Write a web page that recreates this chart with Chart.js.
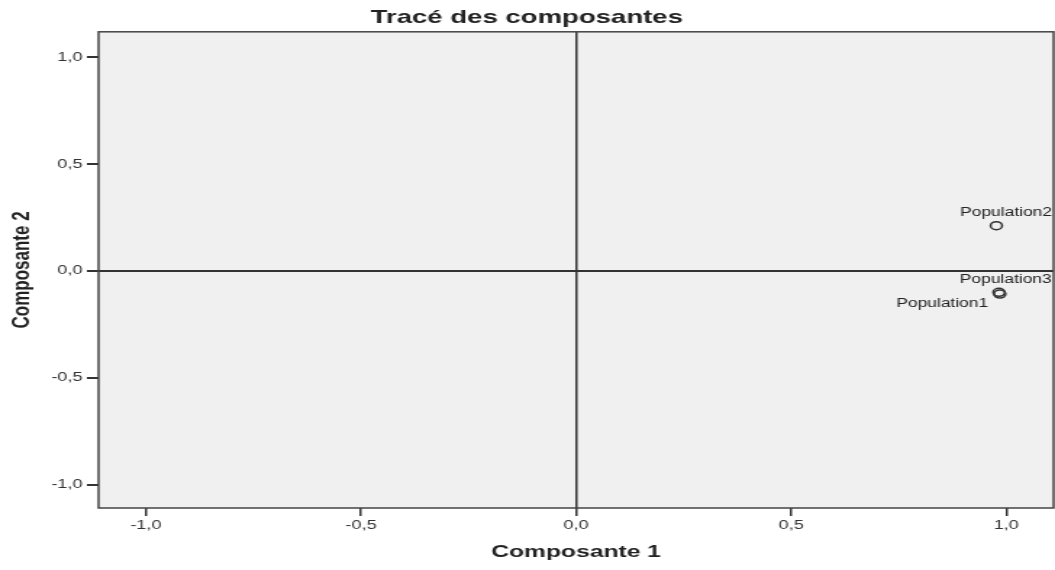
<!DOCTYPE html>
<html>
<head>
<meta charset="utf-8">
<script src="https://cdn.jsdelivr.net/npm/chart.js@4"></script>
<style>
  body { margin: 0; background: #fff; overflow: hidden; }
  #wrap { width: 728px; height: 570px; transform: scaleX(1.4492); transform-origin: 0 0; }
</style>
</head>
<body>
<div id="wrap"><canvas id="myChart"></canvas></div>
<script>
// component loadings
var variables = ['Population1', 'Population2', 'Population3'];
var comp1 = [0.985, 0.977, 0.983];
var comp2 = [-0.108, 0.212, -0.100];

var tickValues = [-1, -0.5, 0, 0.5, 1];
var tickLabels = ['-1,0', '-0,5', '0,0', '0,5', '1,0'];

// where each name sits relative to its marker
var labelPlacement = {
    Population1: { dx: -8, dy: 10, align: 'right' },
    Population2: { dx: -25, dy: -13, align: 'left' },
    Population3: { dx: -27, dy: -13, align: 'left' }
};

var points = variables.map(function (v, i) { return { x: comp1[i], y: comp2[i] }; });

var plotFrame = {
    id: 'plotFrame',
    beforeDraw: function (chart) {
        var a = chart.chartArea, ctx = chart.ctx;
        ctx.save();
        ctx.fillStyle = '#f0f0f0';
        ctx.fillRect(a.left, a.top, a.right - a.left, a.bottom - a.top);
        ctx.restore();
    },
    afterDraw: function (chart) {
        var a = chart.chartArea, ctx = chart.ctx;
        ctx.save();
        ctx.strokeStyle = '#444';
        ctx.lineWidth = 1.5;
        ctx.strokeRect(a.left, a.top, a.right - a.left, a.bottom - a.top);
        ctx.restore();
    }
};

var pointNames = {
    id: 'pointNames',
    afterDatasetsDraw: function (chart) {
        var ctx = chart.ctx;
        var meta = chart.getDatasetMeta(0);
        ctx.save();
        ctx.font = '12px "Liberation Sans", Arial, sans-serif';
        ctx.fillStyle = '#222';
        ctx.textBaseline = 'middle';
        meta.data.forEach(function (el, i) {
            var p = labelPlacement[variables[i]];
            ctx.textAlign = p.align;
            ctx.fillText(variables[i], el.x + p.dx, el.y + p.dy);
        });
        ctx.restore();
    }
};

function zeroLine(c) {
    return c.tick && c.tick.value === 0 ? '#333' : 'rgba(0,0,0,0)';
}

var ctx = document.getElementById('myChart').getContext('2d');
var myChart = new Chart(ctx, {
    type: 'scatter',
    data: {
        datasets: [{
            data: points,
            pointStyle: 'circle',
            pointRadius: 4,
            pointHoverRadius: 4,
            borderWidth: 1.5,
            borderColor: '#333',
            backgroundColor: 'rgba(0,0,0,0)'
        }]
    },
    options: {
        responsive: true,
        maintainAspectRatio: false,
        animation: false,
        layout: { autoPadding: false, padding: { left: 0, right: 1, top: 0, bottom: 0 } },
        plugins: {
            legend: { display: false },
            tooltip: { enabled: false },
            title: {
                display: true,
                text: 'Tracé des composantes',
                color: '#222',
                font: { family: '"Liberation Sans", Arial, sans-serif', size: 19, weight: 'bold' },
                padding: { top: 6, bottom: 3 }
            }
        },
        scales: {
            x: {
                type: 'linear',
                min: -1.11,
                max: 1.11,
                afterBuildTicks: function (s) { s.ticks = tickValues.map(function (v) { return { value: v }; }); },
                afterFit: function (s) { s.height = 62; s.paddingLeft = 0; s.paddingRight = 0; },
                border: { display: false },
                grid: { color: zeroLine, lineWidth: 1.5, tickColor: '#333', tickWidth: 1.5, tickLength: 8 },
                ticks: {
                    padding: 2,
                    color: '#333',
                    font: { family: '"Liberation Sans", Arial, sans-serif', size: 12.5 },
                    callback: function (v, i) { return tickLabels[i]; }
                },
                title: {
                    display: true,
                    text: 'Composante 1',
                    color: '#222',
                    padding: { top: 0, bottom: 7 },
                    font: { family: '"Liberation Sans", Arial, sans-serif', size: 17, weight: 'bold' }
                }
            },
            y: {
                type: 'linear',
                min: -1.11,
                max: 1.12,
                afterBuildTicks: function (s) { s.ticks = tickValues.map(function (v) { return { value: v }; }); },
                afterFit: function (s) { s.width = 68; s.paddingTop = 0; s.paddingBottom = 0; },
                border: { display: false },
                grid: { color: zeroLine, lineWidth: 2, tickColor: '#333', tickWidth: 2, tickLength: 8 },
                ticks: {
                    padding: 3,
                    color: '#333',
                    font: { family: '"Liberation Sans", Arial, sans-serif', size: 12.5 },
                    callback: function (v, i) { return tickLabels[i]; }
                },
                title: {
                    display: true,
                    text: 'Composante 2',
                    color: '#222',
                    padding: { top: 5, bottom: 0 },
                    font: { family: '"Liberation Sans", Arial, sans-serif', size: 17, weight: 'bold' }
                }
            }
        }
    },
    plugins: [plotFrame, pointNames]
});
</script>
</body>
</html>
